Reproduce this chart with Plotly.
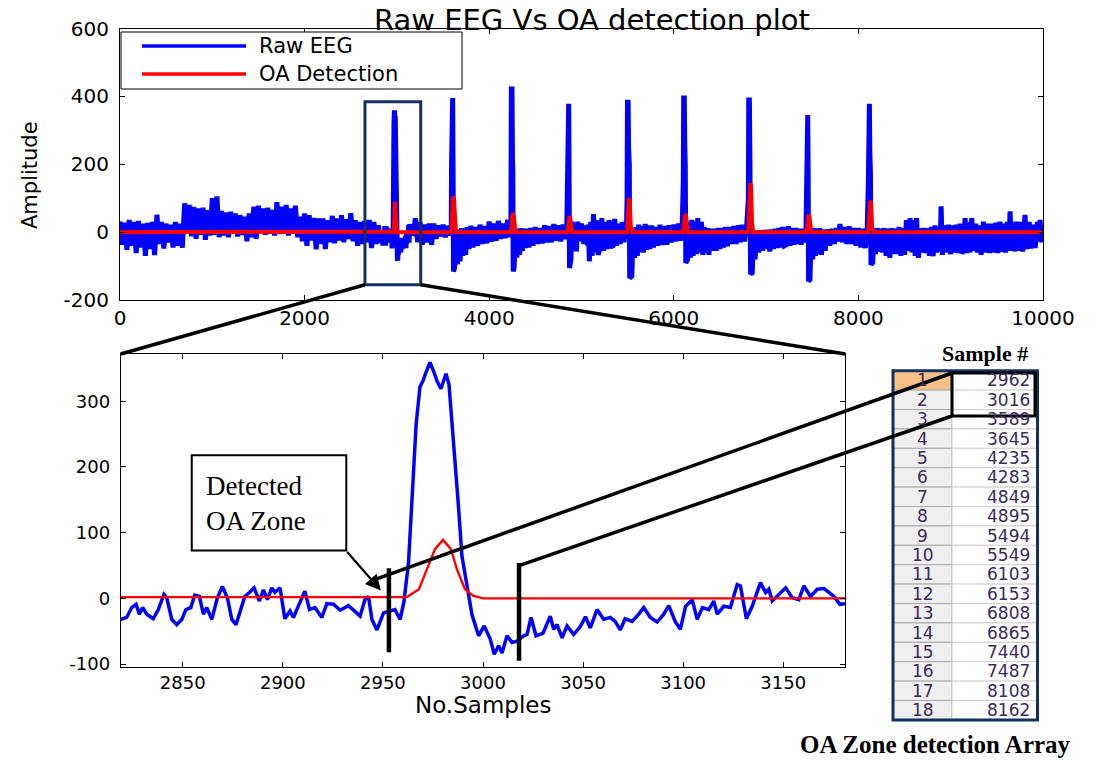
import plotly.graph_objects as go

# the figure fills the whole 1098x761 window (body margin is removed after plotting)
PAGE_OFF = 0
W, H = 1098 - PAGE_OFF, 761 - PAGE_OFF

# ---------------- data ----------------
# Raw EEG, part before the zoomed window
eeg_pre_x = [0, 25, 50, 75, 100, 125, 150, 175, 200, 225, 250, 275, 300, 325, 350, 375, 400, 425, 450, 475,
             500, 525, 550, 575, 600, 625, 650, 675, 700, 725, 750, 775, 800, 825, 850, 875, 900, 925, 950, 975,
             1000, 1025, 1050, 1075, 1100, 1125, 1150, 1175, 1200, 1225, 1250, 1275, 1300, 1325, 1350, 1375,
             1400, 1425, 1450, 1475, 1500, 1525, 1550, 1575, 1600, 1625, 1650, 1675, 1700, 1725, 1750, 1775,
             1800, 1825, 1850, 1875, 1900, 1925, 1950, 1975, 2000, 2025, 2050, 2075, 2100, 2125, 2150, 2175,
             2200, 2225, 2250, 2275, 2300, 2325, 2350, 2375, 2400, 2425, 2450, 2475, 2500, 2525, 2550, 2575,
             2600, 2625, 2650, 2675, 2700, 2725, 2750, 2775, 2800]
eeg_pre_y = [31, -37, 28, -52, 36, -40, 30, -62, 33, -45, 25, -70, 27, -50, 30, -68, 51, -35, 30, -48,
             25, -30, 22, -45, 30, -40, 25, -46, 85, -5, 80, -12, 74, -20, 70, -8, 72, -23, 65, -10,
             100, -8, 105, -15, 62, -10, 58, -15, 60, -5, 55, -13, 50, -8, 45, -27,
             55, -15, 75, -20, 78, -3, 70, -8, 72, -5, 65, -10, 88, -6, 75, -4,
             80, -10, 70, -5, 78, -15, 45, -27, 55, -40, 50, -25, 42, -51, 40, -35,
             40, -50, 35, -30, 48, -33, 40, -25, 50, -30, 38, -20, 56, -27, 35, -40,
             30, -35, 33, -30, 36, -47, 30, -35, 20]

# Raw EEG inside the zoomed window (samples 2819-3181)
zoom_x = [2819, 2822, 2824.5, 2826.7, 2828.3, 2830, 2832, 2835.3, 2837.8, 2840.6, 2842, 2844.5, 2847, 2849.5,
          2851.6, 2854, 2856, 2858.3, 2860.3, 2862, 2864.5, 2867.3, 2869.8, 2872.3, 2874.5, 2876.6, 2878.6, 2881,
          2883.3, 2885.6, 2888.3, 2890.3, 2892.3, 2894.5, 2896, 2898.6, 2901, 2903.6, 2905.3, 2907.8, 2911, 2913.3,
          2916, 2919.5, 2922, 2925.3, 2928.6, 2932.8, 2936, 2938.6, 2941, 2942.8, 2944.5, 2947, 2950.3, 2953.3,
          2956, 2958.6, 2960.5, 2962.8, 2965, 2966.6, 2968.5, 2970, 2972, 2973.5, 2975.3, 2977, 2979, 2981.5,
          2983, 2985, 2987.5, 2989.5, 2991.6, 2994.5, 2997.8, 3000.6, 3003.6, 3005.6, 3007.8, 3009.5, 3012,
          3014.5, 3017, 3020.3, 3022, 3024, 3026.5, 3030, 3033.6, 3035.3, 3037, 3039.5, 3042, 3045.3, 3048.6,
          3051.2, 3053.6, 3057, 3060.3, 3063.6, 3066, 3068.6, 3071, 3074.5, 3077.8, 3080.3, 3083.6, 3087, 3090.3,
          3092.8, 3096, 3098.6, 3101.2, 3104.5, 3107, 3109.6, 3112.8, 3115.3, 3117, 3120.3, 3123.6, 3127, 3128.6,
          3131.6, 3134.5, 3138.6, 3141.2, 3142.8, 3144.5, 3147.8, 3151.2, 3154.5, 3157.8, 3160.3, 3163.6, 3167,
          3170.3, 3172.8, 3175.3, 3178.3, 3181.2]
zoom_y = [-32, -29, -14, -9, -24, -14, -24, -31, -17, 6, 1, -32, -40, -32,
          -17, -14, 5, 3, -24, -14, -32, 1, 18, 1, -32, -40, -19, 3,
          9, 16, -4, 13, -2, 16, 9, 16, -31, -19, -29, -12, 11, -17,
          -14, -29, -8, -9, -18, -11, -19, -27, -2, 3, -32, -48, -22, -19,
          -17, -32, -5, 55, 170, 265, 322, 331, 348, 359, 346, 331, 319, 342,
          326, 252, 150, 64, 24, -25, -57, -42, -62, -85, -72, -83, -57,
          -67, -65, -57, -55, -29, -57, -53, -27, -47, -40, -60, -42, -55, -43,
          -28, -45, -17, -32, -29, -35, -48, -31, -35, -24, -14, -29, -36, -24,
          -11, -35, -47, -12, -2, -32, -14, -17, -4, -24, -12, -14, 21, 19,
          -31, -12, 24, 9, 14, -4, 5, 16, 1, -2, 19, 3, 14,
          15, 9, 3, -9, -8]

# Raw EEG, part after the zoomed window
eeg_post_x = [3200, 3225, 3250, 3275, 3300, 3325, 3350, 3375, 3400, 3425, 3450, 3475, 3500, 3525, 3550, 3570, 3582,
              3589, 3592, 3597, 3604, 3609, 3613, 3625, 3640, 3655, 3670, 3685, 3700, 3715, 3730, 3745, 3760,
              3780, 3800, 3825, 3850, 3875, 3900, 3925, 3950, 3975, 4000, 4025, 4050, 4075, 4100, 4125, 4150,
              4175, 4200, 4215, 4228,
              4235, 4240, 4247, 4252, 4256, 4260, 4270, 4285, 4300, 4315, 4330, 4345, 4360, 4375, 4390, 4410,
              4430, 4450, 4475, 4500, 4525, 4550, 4575, 4600, 4625, 4650, 4675, 4700, 4725, 4750, 4775, 4800,
              4820, 4840,
              4849, 4855, 4861, 4866, 4870, 4885, 4900, 4915, 4930, 4945, 4960, 4975, 5000, 5025, 5050, 5065,
              5075, 5085, 5100, 5115, 5130, 5150, 5165, 5180, 5200, 5220, 5240, 5260, 5280, 5300, 5320, 5340,
              5360, 5380, 5400, 5420, 5440, 5460, 5475, 5485,
              5494, 5498, 5505, 5510, 5518, 5522, 5545, 5560, 5575, 5590, 5605, 5620, 5635, 5650, 5670, 5690,
              5705, 5720, 5740, 5760, 5780, 5800, 5825, 5850, 5875, 5900, 5925, 5950, 5975, 6000, 6025, 6050,
              6070, 6090,
              6103, 6107, 6114, 6118, 6124, 6130, 6150, 6165, 6180, 6195, 6210, 6230, 6245, 6260, 6280, 6300,
              6315, 6330, 6350, 6365, 6380, 6400, 6420, 6440, 6460, 6480, 6500, 6520, 6540, 6560, 6580, 6600,
              6625, 6650, 6675, 6700, 6720, 6740, 6765, 6790,
              6808, 6812, 6819, 6825, 6832, 6850, 6865, 6880, 6900, 6920, 6940, 6960, 6980, 7000, 7020, 7040,
              7060, 7080, 7100, 7120, 7140, 7160, 7180, 7200, 7220, 7240, 7260, 7280, 7300, 7320, 7340, 7360,
              7380, 7400, 7420, 7432,
              7440, 7444, 7451, 7456, 7460, 7475, 7490, 7505, 7520, 7535, 7550, 7565, 7580, 7600, 7620, 7640,
              7660, 7690, 7715, 7740, 7760, 7780, 7800, 7825, 7850, 7875, 7900, 7925, 7950, 7975, 8000, 8025,
              8050, 8075, 8095,
              8108, 8112, 8119, 8124, 8130, 8136, 8155, 8170, 8185, 8200, 8220, 8240, 8260, 8280, 8300, 8320,
              8340, 8360, 8380, 8400, 8420, 8440, 8460, 8480, 8500, 8520, 8540, 8560, 8580, 8600, 8615, 8630,
              8650, 8670, 8690, 8710, 8730, 8750, 8770, 8790, 8810, 8830, 8850, 8870, 8885, 8896, 8910, 8930,
              8950, 8975, 9000, 9020, 9040, 9060, 9080, 9100, 9120, 9140, 9156, 9175, 9190, 9210, 9228, 9250,
              9270, 9290, 9310, 9330, 9354, 9375, 9400, 9420, 9445, 9465, 9490, 9510, 9534, 9555, 9575, 9595,
              9615, 9630, 9643, 9660, 9680, 9700, 9715, 9735, 9760, 9780, 9805, 9825, 9850, 9870, 9896, 9915,
              9940, 9955, 9968, 9985, 10000]
eeg_post_y = [41, -30, 30, -37, 22, -30, 25, -37, 25, -20, 20, -12, 22, -15, 18, -10, 20,
              0, 200, 395, 395, 160, -116, -105, 5, -95, 8, -86, 12, -70, 10, -67, 15,
              -50, 19, -45, 15, -40, 22, -35, 18, -33, 31, -28, 25, -25, 33, -20, 25,
              -18, 36, -15, 10,
              20, 422, 422, 220, 180, -116, -105, 5, -75, 10, -67, 12, -55, 10, -47, 10,
              -45, 12, -40, 15, -35, 12, -33, 20, -30, 18, -30, 24, -25, 20, -27, 22,
              -20, 5,
              250, 378, 378, 150, -106, -80, 31, -45, 25, -57, 31, -27, 25, -35, 20, -40,
              22, -86, 30, -70, 53, -60, 35, -67, -50, 41, -55, 30, -50, 35, -40, -45,
              39, -40, 25, -35, 30, -30, 20, -20,
              100, 383, 383, 250, 200, -135, -130, 10, -76, 15, -70, 22, -60, 18, -60, 24,
              -52, 20, -50, 20, -45, 15, -40, 22, -38, 18, -37, 20, -30, 22, -27, 25,
              -25, 10,
              150, 395, 395, 270, 200, -91, -80, 30, -75, 36, -70, 30, -65, 41, -60, 30,
              -67, 15, -60, 12, -67, 10, -55, 10, -55, 12, -50, 12, -45, 15, -42, 15,
              -35, 18, -35, 20, -30, 22, -27, 20,
              100, 389, 389, 200, -123, -120, 5, -80, 2, -60, 5, -55, 6, -50, 7, -57,
              8, -50, 10, -47, 12, -45, 15, -40, -37, 17, -40, 12, -37, 12, -35, 10,
              -37, 10, -30, 5,
              200, 345, 345, 150, -145, -140, 10, -80, 12, -70, 10, -65, 12, -67, 7, -55,
              8, -40, 10, -35, 12, -27, 24, -30, 15, -35, 17, -35, 12, -40, 12, -45,
              10, -47, 5,
              150, 378, 378, 230, 180, -96, -90, 12, -65, 12, -57, 10, -60, 12, -70, 10,
              -76, 12, -65, 10, -65, 15, -70, 12, -67, 35, -55, 41, -60, 35, -70, 41,
              -76, 12, -60, 12, -62, 12, -70, 15, -71, 20, -60, 15, -55, 76, -67, 20,
              -60, 22, -65, 20, -60, 22, -62, 25, -62, -55, 41, -62, 30, -60, 41, -55,
              25, -60, 20, -67, 31, -60, 25, -62, 25, -60, 28, -62, 31, -58, 25, -60,
              30, -55, 61, -55, 30, -57, 31, -55, 30, -57, 51, -50, 30, -48, 22, -47,
              30, -27, 36, -30, 20]

# OA detection output
oa_x = [0, 2955, 2962, 2968, 2972, 2976, 2980, 2984, 2987, 2991, 2995, 3000,
        3589, 3592, 3597, 3602, 3610, 3618, 3623, 3628, 3640,
        4235, 4238, 4243, 4248, 4256, 4264, 4269, 4274, 4285,
        4849, 4852, 4857, 4862, 4870, 4878, 4883, 4888, 4898,
        5494, 5497, 5502, 5507, 5515, 5523, 5528, 5533, 5548,
        6103, 6106, 6111, 6116, 6124, 6132, 6137, 6142, 6153,
        6808, 6811, 6816, 6821, 6829, 6837, 6842, 6848, 6862,
        7440, 7443, 7448, 7453, 7461, 7469, 7474, 7479, 7490,
        8108, 8111, 8116, 8121, 8129, 8137, 8142, 8148, 8162,
        9965, 9972]
oa_y = [0, 1, 2, 14, 44, 75, 89, 75, 44, 14, 4, 0,
        0, 20, 70, 105, 105, 100, 60, 18, 0,
        0, 12, 40, 56, 56, 52, 33, 10, 0,
        0, 10, 32, 46, 46, 43, 27, 8, 0,
        0, 20, 68, 100, 100, 95, 58, 18, 0,
        0, 12, 38, 53, 53, 50, 32, 10, 0,
        0, 30, 95, 144, 144, 136, 80, 25, 0,
        0, 11, 36, 51, 51, 48, 30, 9, 0,
        0, 20, 62, 92, 92, 87, 53, 16, 0,
        0, -4]

# OA zone detection array
sample_rows = list(range(1, 19))
sample_vals = [2962, 3016, 3589, 3645, 4235, 4283, 4849, 4895, 5494,
               5549, 6103, 6153, 6808, 6865, 7440, 7487, 8108, 8162]

# zoom window and zone markers
zoom_window = [2654, 3258, -155, 384]
zone_marks_x = [2953, 3018]
zone_marks_lo = [-82, -95]
zone_marks_hi = [46, 54]

top_xticks = [0, 2000, 4000, 6000, 8000, 10000]
top_yticks = [-200, 0, 200, 400, 600]
bot_xticks = [2850, 2900, 2950, 3000, 3050, 3100, 3150]
bot_yticks = [-100, 0, 100, 200, 300]


# ---------------- layout geometry (page pixels -> figure paper coords) ----------------
def px(x, y):
    return ((x - PAGE_OFF) / W, 1 - (y - PAGE_OFF) / H)


TOP_XR, TOP_YR = [0, 10000], [-200, 600]
BOT_XR, BOT_YR = [2819, 3181], [-104, 372]
TOP_XD = [px(120, 0)[0], px(1043, 0)[0]]
TOP_YD = [px(0, 300)[1], px(0, 28.5)[1]]
BOT_XD = [px(120.7, 0)[0], px(845.3, 0)[0]]
BOT_YD = [px(0, 666.7)[1], px(0, 354)[1]]


def to_paper(x, y, xd, yd, xr, yr):
    return (xd[0] + (x - xr[0]) / (xr[1] - xr[0]) * (xd[1] - xd[0]),
            yd[0] + (y - yr[0]) / (yr[1] - yr[0]) * (yd[1] - yd[0]))


def top_p(x, y):
    return to_paper(x, y, TOP_XD, TOP_YD, TOP_XR, TOP_YR)


def bot_p(x, y):
    return to_paper(x, y, BOT_XD, BOT_YD, BOT_XR, BOT_YR)


MFONT = "DejaVu Sans"
SERIF = "Liberation Serif"
BLUE, RED = "#0000ff", "#ff0000"
NAVY = "#14305e"

eeg_x = eeg_pre_x + zoom_x + eeg_post_x
eeg_y = eeg_pre_y + zoom_y + eeg_post_y

fig = go.Figure()
fig.add_trace(go.Scatter(x=eeg_x, y=eeg_y, mode="lines", line=dict(color=BLUE, width=5),
                         xaxis="x", yaxis="y", showlegend=False, hoverinfo="skip"))
fig.add_trace(go.Scatter(x=oa_x, y=oa_y, mode="lines", line=dict(color=RED, width=4),
                         xaxis="x", yaxis="y", showlegend=False, hoverinfo="skip"))
fig.add_trace(go.Scatter(x=eeg_x, y=eeg_y, mode="lines", line=dict(color=BLUE, width=3.5),
                         xaxis="x2", yaxis="y2", showlegend=False, hoverinfo="skip"))
fig.add_trace(go.Scatter(x=oa_x, y=oa_y, mode="lines", line=dict(color=RED, width=2.4),
                         xaxis="x2", yaxis="y2", showlegend=False, hoverinfo="skip"))


def tick_text(vals):
    return [str(v) for v in vals]


axis_common = dict(showgrid=False, zeroline=False, showline=True, linecolor="black", linewidth=1,
                   mirror="allticks", ticks="inside", ticklen=5, tickcolor="black", automargin=False)

shapes = []
annotations = []

# zoom rectangle on top plot
shapes.append(dict(type="rect", xref="x", yref="y", x0=zoom_window[0], x1=zoom_window[1],
                   y0=zoom_window[2], y1=zoom_window[3], line=dict(color=NAVY, width=3)))
# connectors to zoom plot
a = top_p(zoom_window[0], zoom_window[2]); b = bot_p(BOT_XR[0], BOT_YR[1])
shapes.append(dict(type="line", xref="paper", yref="paper", x0=a[0], y0=a[1], x1=b[0], y1=b[1],
                   line=dict(color="black", width=3.5)))
a = top_p(zoom_window[1], zoom_window[2]); b = bot_p(BOT_XR[1], BOT_YR[1])
shapes.append(dict(type="line", xref="paper", yref="paper", x0=a[0], y0=a[1], x1=b[0], y1=b[1],
                   line=dict(color="black", width=3.5)))

# zone marker bars
for xm, lo, hi in zip(zone_marks_x, zone_marks_lo, zone_marks_hi):
    shapes.append(dict(type="line", xref="x2", yref="y2", x0=xm, x1=xm, y0=lo, y1=hi,
                       line=dict(color="black", width=4.5)))

# callout box
shapes.append(dict(type="rect", xref="x2", yref="y2", x0=2854.5, x1=2931.7, y0=73, y1=217.7,
                   line=dict(color="black", width=2), fillcolor="white"))
annotations.append(dict(xref="x2", yref="y2", x=2860.5, y=145, text="Detected<br>OA Zone",
                        showarrow=False, xanchor="left", yanchor="middle", align="left",
                        font=dict(family=SERIF, size=27, color="black")))
annotations.append(dict(xref="x2", yref="y2", x=2949, y=12, ax=2931.5, ay=73, axref="x2", ayref="y2",
                        text="", showarrow=True, arrowhead=2, arrowsize=1.4, arrowwidth=2.2,
                        arrowcolor="black"))

# ---------------- table ----------------
TL, TDIV, TR, TT, RH = 893, 952, 1037.5, 370.7, 19.4
for i, (r, v) in enumerate(zip(sample_rows, sample_vals)):
    y0 = TT + i * RH
    y1 = y0 + RH
    p0 = px(TL, y0); p1 = px(TDIV, y1)
    shapes.append(dict(type="rect", xref="paper", yref="paper", x0=p0[0], y0=p0[1], x1=p1[0], y1=p1[1],
                       fillcolor="#f7c089" if i == 0 else "#efefef", line=dict(color="#a8a8a8", width=1)))
    p0 = px(TDIV, y0); p1 = px(TR, y1)
    shapes.append(dict(type="rect", xref="paper", yref="paper", x0=p0[0], y0=p0[1], x1=p1[0], y1=p1[1],
                       fillcolor="white", line=dict(color="#cfcfcf", width=1)))
    c = px((TL + TDIV) / 2, (y0 + y1) / 2)
    annotations.append(dict(xref="paper", yref="paper", x=c[0], y=c[1], text=str(r), showarrow=False,
                            xanchor="center", yanchor="middle",
                            font=dict(family=MFONT, size=17, color="#3a2b5c")))
    c = px(1032, (y0 + y1) / 2)
    annotations.append(dict(xref="paper", yref="paper", x=c[0], y=c[1], text=str(v), showarrow=False,
                            xanchor="right", yanchor="middle",
                            font=dict(family=MFONT, size=17, color="#3a2b5c")))
p0 = px(TL, TT); p1 = px(TR, TT + 18 * RH)
shapes.append(dict(type="rect", xref="paper", yref="paper", x0=p0[0], y0=p0[1], x1=p1[0], y1=p1[1],
                   line=dict(color=NAVY, width=3)))
# highlight box
p0 = px(952, 373); p1 = px(1035, 416)
shapes.append(dict(type="rect", xref="paper", yref="paper", x0=p0[0], y0=p0[1], x1=p1[0], y1=p1[1],
                   line=dict(color="black", width=3)))
# lines from zone markers to table
a = bot_p(2946.2, 29); b = px(952, 373)
shapes.append(dict(type="line", xref="paper", yref="paper", x0=a[0], y0=a[1], x1=b[0], y1=b[1],
                   line=dict(color="black", width=3.5)))
a = bot_p(3018, 50); b = px(952, 416)
shapes.append(dict(type="line", xref="paper", yref="paper", x0=a[0], y0=a[1], x1=b[0], y1=b[1],
                   line=dict(color="black", width=3.5)))

c = px(985, 354)
annotations.append(dict(xref="paper", yref="paper", x=c[0], y=c[1], text="<b>Sample #</b>", showarrow=False,
                        xanchor="center", yanchor="middle", font=dict(family=SERIF, size=22, color="black")))
c = px(935, 744)
annotations.append(dict(xref="paper", yref="paper", x=c[0], y=c[1], text="<b>OA Zone detection Array</b>",
                        showarrow=False, xanchor="center", yanchor="middle",
                        font=dict(family=SERIF, size=25, color="black")))

# ---------------- legend (drawn) ----------------
p0 = px(121, 32); p1 = px(462, 89)
shapes.append(dict(type="rect", xref="paper", yref="paper", x0=p0[0], y0=p0[1], x1=p1[0], y1=p1[1],
                   line=dict(color="black", width=1), fillcolor="white"))
for yy, col, lab in [(46, BLUE, "Raw EEG"), (74, RED, "OA Detection")]:
    a = px(142, yy); b = px(246, yy)
    shapes.append(dict(type="line", xref="paper", yref="paper", x0=a[0], y0=a[1], x1=b[0], y1=b[1],
                       line=dict(color=col, width=3.5)))
    c = px(257, yy)
    annotations.append(dict(xref="paper", yref="paper", x=c[0], y=c[1], text=lab, showarrow=False,
                            xanchor="left", yanchor="middle", font=dict(family=MFONT, size=21, color="black")))

# titles / labels
c = px(592, 1)
annotations.append(dict(xref="paper", yref="paper", x=c[0], y=c[1], text="Raw EEG Vs OA detection plot",
                        showarrow=False, xanchor="center", yanchor="top",
                        font=dict(family=MFONT, size=29, color="black")))
c = px(30, 175)
annotations.append(dict(xref="paper", yref="paper", x=c[0], y=c[1], text="Amplitude", textangle=-90,
                        showarrow=False, xanchor="center", yanchor="middle",
                        font=dict(family=MFONT, size=21, color="black")))
c = px(483, 705)
annotations.append(dict(xref="paper", yref="paper", x=c[0], y=c[1], text="No.Samples",
                        showarrow=False, xanchor="center", yanchor="middle",
                        font=dict(family=MFONT, size=23, color="black")))

big_tick = dict(family=MFONT, size=20, color="black")
small_tick = dict(family=MFONT, size=18, color="black")

fig.update_layout(
    width=W, height=H, autosize=False,
    margin=dict(l=0, r=0, t=0, b=0, pad=0),
    paper_bgcolor="white", plot_bgcolor="white",
    showlegend=False,
    xaxis=dict(domain=TOP_XD, range=TOP_XR, tickvals=top_xticks, ticktext=tick_text(top_xticks),
               anchor="y", tickfont=big_tick, **axis_common),
    yaxis=dict(domain=TOP_YD, range=TOP_YR, tickvals=top_yticks, ticktext=tick_text(top_yticks),
               anchor="x", ticklabelstandoff=6, tickfont=big_tick, **axis_common),
    xaxis2=dict(domain=BOT_XD, range=BOT_XR, tickvals=bot_xticks, ticktext=tick_text(bot_xticks),
                anchor="y2", tickfont=small_tick, **axis_common),
    yaxis2=dict(domain=BOT_YD, range=BOT_YR, tickvals=bot_yticks, ticktext=tick_text(bot_yticks),
                anchor="x2", ticklabelstandoff=6, tickfont=small_tick, **axis_common),
    shapes=shapes,
    annotations=annotations,
)

fig.write_html("out.html",
               config={"displayModeBar": False},
               post_script="document.body.style.margin='0px';document.body.style.overflow='hidden';")
